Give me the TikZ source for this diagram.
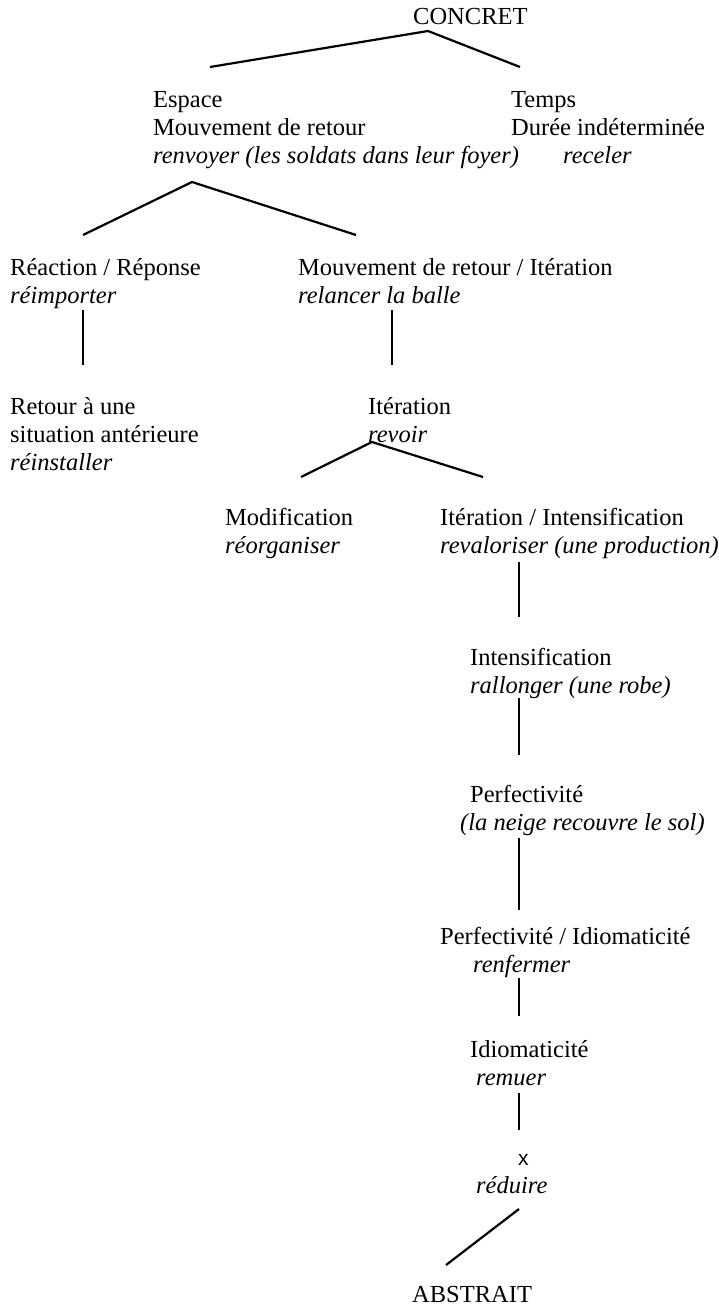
\documentclass[tikz,border=0pt]{standalone}
\usepackage{fontspec}
\setmainfont{Liberation Serif}
\newfontfamily\sansx{Liberation Sans}
\usetikzlibrary{positioning}

\begin{document}
\begin{tikzpicture}[
        x=1pt, y=-1pt,
        item/.style={anchor=base west, align=left, inner sep=0pt, font=\fontsize{24.5}{28}\selectfont},
        link/.style={draw, line width=2.2pt}
    ]
        \useasboundingbox (0,0) rectangle (719,1307);

        % Top levels (placed at the baseline of their last line)
        \node [item] (concret) at (413,24) {CONCRET};
        \node [item] (espace) at (153,163) {Espace\\ Mouvement de retour\\ \textit{renvoyer (les soldats dans leur foyer)}};
        \node [item] (temps) at (511,163) {Temps\\ Durée indéterminée\\ \hspace*{52pt}\textit{receler}};
        \node [item] (reaction) at (10,303) {Réaction / Réponse\\ \textit{réimporter}};
        \node [item] (mouvement) at (298,303) {Mouvement de retour / Itération\\ \textit{relancer la balle}};
        \node [item] (retour) at (10,470) {Retour à une\\ situation antérieure\\ \textit{réinstaller}};
        \node [item] (iteration) at (368,442) {Itération\\ \textit{revoir}};
        \node [item] (modif) at (225,553) {Modification\\ \textit{réorganiser}};
        \node [item] (iterint) at (440,553) {Itération / Intensification\\ \textit{revaloriser (une production)}};

        % Right column
        \node [item] (intens) at (470,693) {Intensification\\ \textit{rallonger (une robe)}};
        \node [item] (perf) at (460,830) {\hspace*{10pt}Perfectivité\\ \textit{(la neige recouvre le sol)}};
        \node [item] (perfidiom) at (440,972) {Perfectivité / Idiomaticité\\ \hspace*{33pt}\textit{renfermer}};
        \node [item] (idiom) at (470,1085) {Idiomaticité\\ \hspace*{6pt}\textit{remuer}};
        \node [item] (reduire) at (476,1193) {\hspace*{42pt}{\sansx\fontsize{21}{28}\selectfont x}\\ \textit{réduire}};
        \node [item] (abstrait) at (412,1302) {ABSTRAIT};

        % Branch points
        \coordinate (c0) at (428,31);
        \coordinate (c0l) at (210,67);
        \coordinate (c0r) at (520,67);
        \coordinate (c1) at (192,182);
        \coordinate (c1l) at (83,235);
        \coordinate (c1r) at (356,235);
        \coordinate (c2) at (372,442);
        \coordinate (c2l) at (301,477);
        \coordinate (c2r) at (483,477);

        % Edges
        \path [link] (c0l) -- (c0) -- (c0r);
        \path [link] (c1l) -- (c1) -- (c1r);
        \path [link] (83,310) -- (83,365);
        \path [link] (392,310) -- (392,365);
        \path [link] (c2l) -- (c2) -- (c2r);
        \path [link] (519,562) -- (519,617);
        \path [link] (519,698) -- (519,755);
        \path [link] (519,838) -- (519,910);
        \path [link] (519,978) -- (519,1016);
        \path [link] (519,1093) -- (519,1130);
        \path [link] (519,1209) -- (446,1265);
    \end{tikzpicture}
\end{document}
